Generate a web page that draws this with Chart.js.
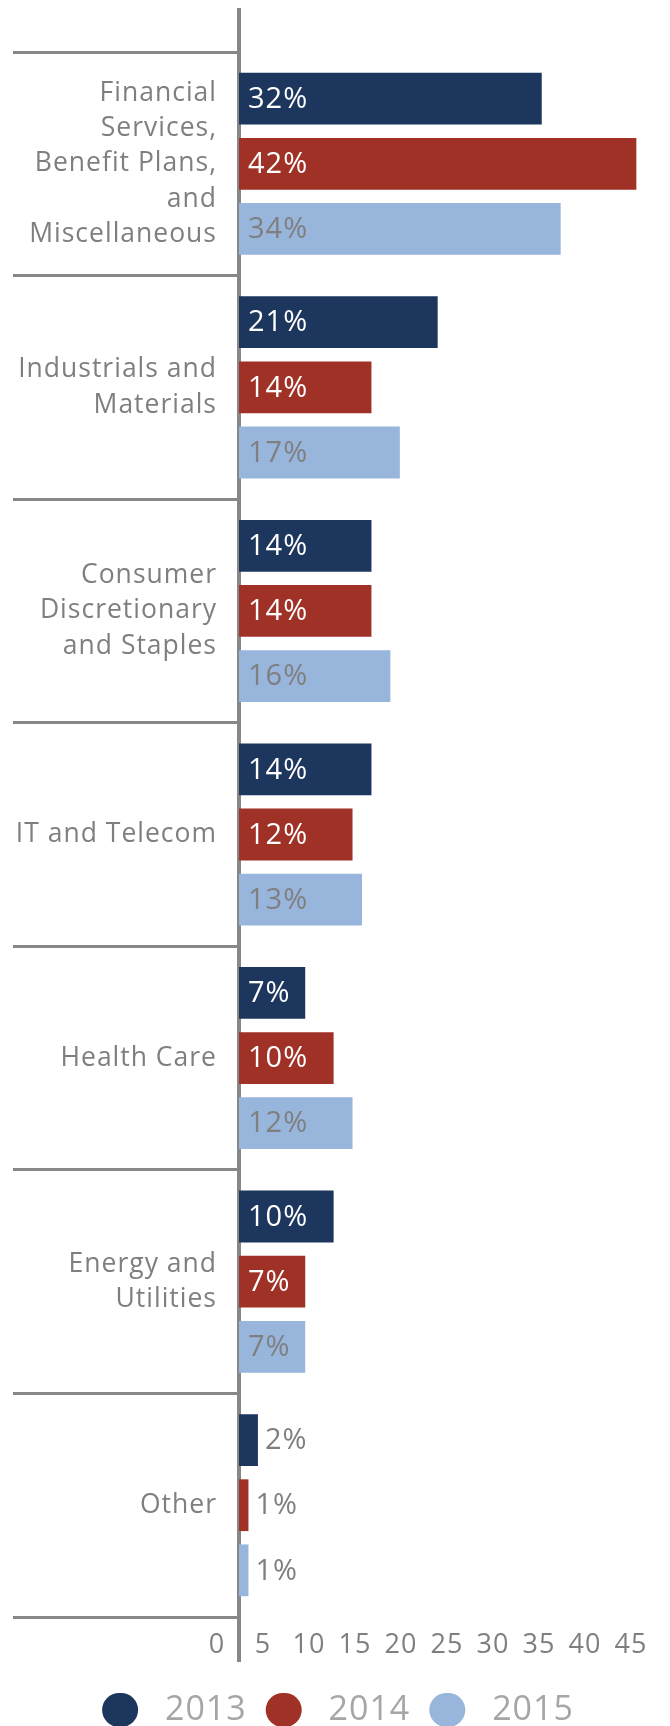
<!DOCTYPE html>
<html>
<head>
<meta charset="utf-8">
<script src="https://cdn.jsdelivr.net/npm/chart.js@4/dist/chart.umd.min.js"></script>
<style>
html,body{margin:0;padding:0;background:#ffffff;}
#wrap{width:670px;height:1726px;position:relative;}
</style>
</head>
<body>
<div id="wrap"><canvas id="c"></canvas></div>
<script>
// ---- data ----
const categories = [
  ['Financial', 'Services,', 'Benefit Plans,', 'and', 'Miscellaneous'],
  ['Industrials and', 'Materials'],
  ['Consumer', 'Discretionary', 'and Staples'],
  ['IT and Telecom'],
  ['Health Care'],
  ['Energy and', 'Utilities'],
  ['Other']
];
const seriesNames = ['2013', '2014', '2015'];
const values2013 = [32, 21, 14, 14, 7, 10, 2];
const values2014 = [42, 14, 14, 12, 10, 7, 1];
const values2015 = [34, 17, 16, 13, 12, 7, 1];
const xTickLabels = [0, 5, 10, 15, 20, 25, 30, 35, 40, 45];

// ---- style ----
const FONT = "'Open Sans', 'Noto Sans', sans-serif";
const C2013 = '#1d365e';
const C2014 = '#a03126';
const C2015 = '#98b5dc';
const AXIS = '#878787';
const TEXT = '#7f7f7f';
const LEGEND_TEXT = '#a6a6a6';
const insideColors = ['#ffffff', '#ffffff', '#7f7f7f'];
const XT_MIN = 2.391, XT_MAX = 48.15;

const onlyZero = (c) => (c.tick && c.tick.value === 0) ? AXIS : 'rgba(0,0,0,0)';
const onlyMin = (c) => (c.tick && c.tick.value === XT_MIN) ? AXIS : 'rgba(0,0,0,0)';

const spacing = {
  id: 'spacing',
  beforeUpdate(chart) { chart.ctx.letterSpacing = '1px'; },
  beforeDraw(chart) { chart.ctx.letterSpacing = '1px'; }
};

const barLabels = {
  id: 'barLabels',
  afterDatasetsDraw(chart) {
    const ctx = chart.ctx;
    ctx.save();
    ctx.font = '29px ' + FONT;
    ctx.textBaseline = 'middle';
    ctx.textAlign = 'left';
    chart.data.datasets.forEach((ds, di) => {
      const meta = chart.getDatasetMeta(di);
      meta.data.forEach((bar, i) => {
        const txt = ds.data[i] + '%';
        const w = ctx.measureText(txt).width;
        const inside = (bar.x - bar.base) >= w + 16;
        ctx.fillStyle = inside ? insideColors[di] : TEXT;
        ctx.fillText(txt, inside ? bar.base + 9 : bar.x + 7, bar.y + 1);
      });
    });
    ctx.restore();
  }
};

new Chart(document.getElementById('c'), {
  type: 'bar',
  data: {
    labels: categories,
    datasets: [
      { label: seriesNames[0], data: values2013, backgroundColor: C2013 },
      { label: seriesNames[1], data: values2014, backgroundColor: C2014 },
      { label: seriesNames[2], data: values2015, backgroundColor: C2015 }
    ]
  },
  options: {
    indexAxis: 'y',
    responsive: true,
    maintainAspectRatio: false,
    animation: false,
    events: [],
    layout: { padding: { top: 8, left: 16, right: 10, bottom: 0 } },
    datasets: { bar: { categoryPercentage: 0.874, barPercentage: 0.795, borderWidth: 0 } },
    scales: {
      x: {
        type: 'linear', position: 'bottom', min: 0, max: 44.5,
        display: false
      },
      xt: {
        type: 'linear', axis: 'x', position: 'bottom', min: XT_MIN, max: XT_MAX,
        afterBuildTicks: (s) => { s.ticks = [{ value: XT_MIN }].concat(xTickLabels.map(v => ({ value: v }))); },
        grid: { display: true, drawOnChartArea: false, drawTicks: true, tickLength: 45, color: onlyMin, lineWidth: 4 },
        border: { display: false },
        ticks: { autoSkip: false, maxRotation: 0, color: TEXT, padding: -33.2,
                 callback: (v) => xTickLabels.includes(v) ? String(v) : '',
                 font: { family: FONT, size: 27, lineHeight: 1.2 } },
        title: { display: true, text: '', padding: 0, font: { size: 38.333, lineHeight: 1.2 } }
      },
      x2: {
        type: 'linear', axis: 'x', position: 'top', min: 0, max: 44.5,
        grid: { display: true, drawOnChartArea: false, drawTicks: true, tickLength: 44, color: onlyZero, lineWidth: 4 },
        ticks: { display: false },
        border: { display: false }
      },
      y: {
        type: 'category', position: 'left', offset: true,
        afterFit: (s) => { s.width = 223; },
        grid: { display: true, offset: true, drawOnChartArea: false, drawTicks: true, tickLength: 226, color: AXIS, lineWidth: 3 },
        border: { display: true, color: AXIS, width: 4 },
        ticks: { autoSkip: false, color: TEXT, padding: -204,
                 font: { family: FONT, size: 26.5, lineHeight: 1.33 } }
      }
    },
    plugins: {
      tooltip: { enabled: false },
      title: { display: false },
      legend: {
        display: true, position: 'bottom', maxHeight: 52,
        labels: {
          font: { family: FONT, size: 34 },
          color: LEGEND_TEXT,
          boxWidth: 36, boxHeight: 34,
          useBorderRadius: true, borderRadius: 17,
          padding: 19,
          generateLabels: (chart) => {
            const items = Chart.defaults.plugins.legend.labels.generateLabels(chart);
            items.forEach(it => { it.text = ' ' + it.text; it.lineWidth = 0; });
            return items;
          }
        }
      }
    }
  },
  plugins: [spacing, barLabels]
});
</script>
</body>
</html>
